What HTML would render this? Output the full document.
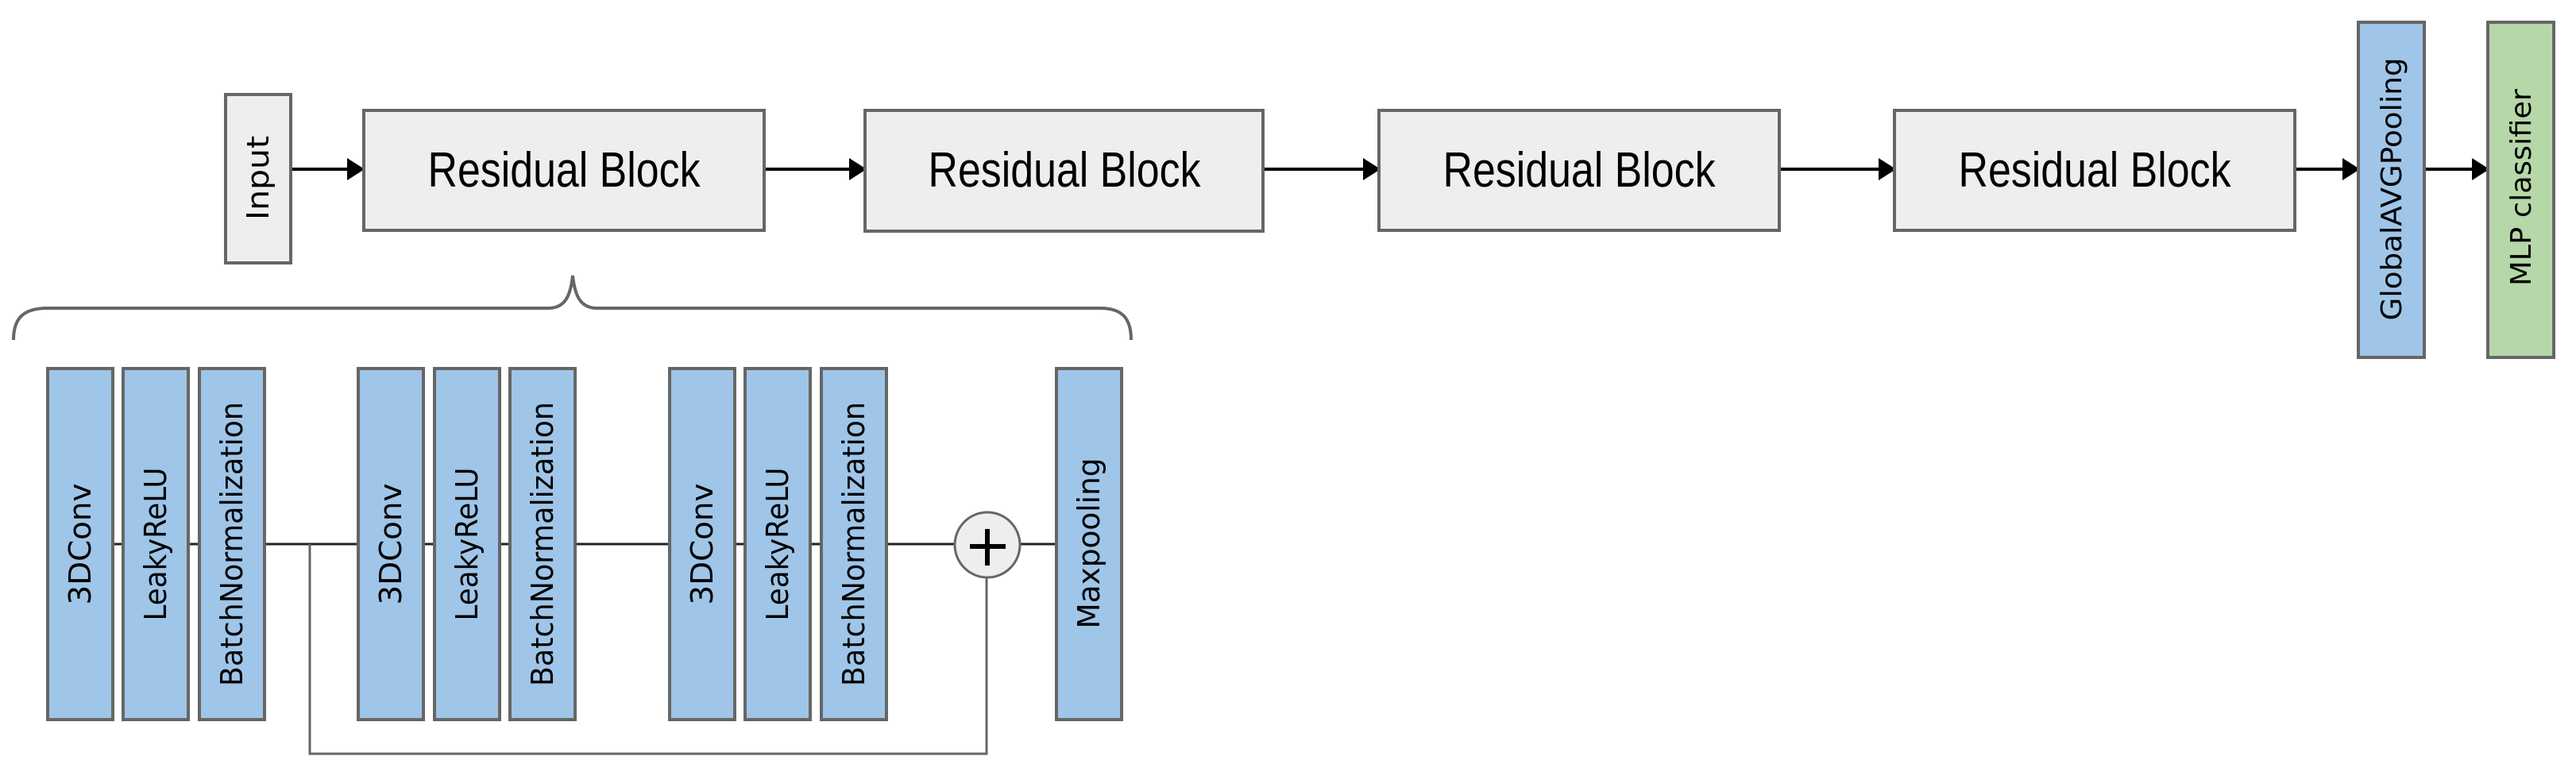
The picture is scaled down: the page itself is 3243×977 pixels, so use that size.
<!DOCTYPE html>
<html><head><meta charset="utf-8"><style>html,body{margin:0;padding:0;background:#fff}svg{display:block}</style></head>
<body>
<svg width="3243" height="977" viewBox="0 0 3243 977" xmlns="http://www.w3.org/2000/svg">
<defs><marker id="ah" markerWidth="22" markerHeight="28" refX="20" refY="14" orient="auto" markerUnits="userSpaceOnUse"><path d="M0,0 L22,14 L0,28 Z" fill="#000"/></marker></defs>
<g stroke="#000" stroke-width="4" fill="none">
<line x1="366" y1="213" x2="457" y2="213" marker-end="url(#ah)"/>
<line x1="963" y1="213" x2="1089" y2="213" marker-end="url(#ah)"/>
<line x1="1590" y1="213" x2="1736" y2="213" marker-end="url(#ah)"/>
<line x1="2240" y1="213" x2="2385" y2="213" marker-end="url(#ah)"/>
<line x1="2889" y1="213" x2="2969" y2="213" marker-end="url(#ah)"/>
<line x1="3052" y1="213" x2="3132" y2="213" marker-end="url(#ah)"/>
</g>
<g fill="#eeeeee" stroke="#666" stroke-width="4">
<rect x="284" y="119" width="82" height="212"/>
<rect x="458" y="139" width="504" height="151"/>
<rect x="1089" y="139" width="501" height="152"/>
<rect x="1736" y="139" width="504" height="151"/>
<rect x="2385" y="139" width="504" height="151"/>
</g>
<rect x="2969" y="28" width="83" height="422" fill="#9fc5e8" stroke="#666" stroke-width="4"/>
<rect x="3132" y="28" width="83" height="422" fill="#b6d7a8" stroke="#666" stroke-width="4"/>
<g font-family="Liberation Sans, sans-serif" font-size="62" fill="#000" text-anchor="middle">
<text x="710" y="235" textLength="343" lengthAdjust="spacingAndGlyphs">Residual Block</text>
<text x="1340" y="235" textLength="343" lengthAdjust="spacingAndGlyphs">Residual Block</text>
<text x="1988" y="235" textLength="343" lengthAdjust="spacingAndGlyphs">Residual Block</text>
<text x="2637" y="235" textLength="343" lengthAdjust="spacingAndGlyphs">Residual Block</text>
</g>
<path d="M17,428 C17,400 30,388 60,388 L690,388 C710,388 718,375 721,347 C724,375 732,388 752,388 L1385,388 C1412,388 1424,400 1424,428" fill="none" stroke="#666" stroke-width="4"/>
<g stroke="#222" stroke-width="3" fill="none">
<line x1="100" y1="685" x2="1202" y2="685"/>
<line x1="1284" y1="685" x2="1370" y2="685"/>
<polyline points="390,685 390,949 1242,949 1242,727" stroke="#666"/>
</g>
<g fill="#9fc5e8" stroke="#666" stroke-width="4">
<rect x="60" y="464" width="82" height="442"/>
<rect x="155" y="464" width="82" height="442"/>
<rect x="251" y="464" width="82" height="442"/>
<rect x="451" y="464" width="82" height="442"/>
<rect x="547" y="464" width="82" height="442"/>
<rect x="642" y="464" width="82" height="442"/>
<rect x="843" y="464" width="82" height="442"/>
<rect x="938" y="464" width="82" height="442"/>
<rect x="1034" y="464" width="82" height="442"/>
<rect x="1330" y="464" width="82" height="442"/>
</g>
<circle cx="1243" cy="686" r="41" fill="#eeeeee" stroke="#666" stroke-width="3"/>
<g stroke="#000" stroke-width="6"><line x1="1221" y1="688" x2="1266" y2="688"/><line x1="1243" y1="666" x2="1243" y2="712"/></g>
<g font-family="DejaVu Sans, sans-serif" font-size="38" fill="#000" text-anchor="middle">
<text transform="translate(114,685) rotate(-90)" textLength="153" lengthAdjust="spacingAndGlyphs">3DConv</text>
<text transform="translate(209,685) rotate(-90)" textLength="193" lengthAdjust="spacingAndGlyphs">LeakyReLU</text>
<text transform="translate(305,685) rotate(-90)" textLength="358" lengthAdjust="spacingAndGlyphs">BatchNormalization</text>
<text transform="translate(505,685) rotate(-90)" textLength="153" lengthAdjust="spacingAndGlyphs">3DConv</text>
<text transform="translate(601,685) rotate(-90)" textLength="193" lengthAdjust="spacingAndGlyphs">LeakyReLU</text>
<text transform="translate(696,685) rotate(-90)" textLength="358" lengthAdjust="spacingAndGlyphs">BatchNormalization</text>
<text transform="translate(897,685) rotate(-90)" textLength="153" lengthAdjust="spacingAndGlyphs">3DConv</text>
<text transform="translate(992,685) rotate(-90)" textLength="193" lengthAdjust="spacingAndGlyphs">LeakyReLU</text>
<text transform="translate(1088,685) rotate(-90)" textLength="358" lengthAdjust="spacingAndGlyphs">BatchNormalization</text>
<text transform="translate(1384,684) rotate(-90)" textLength="215" lengthAdjust="spacingAndGlyphs">Maxpooling</text>
<text transform="translate(338,224) rotate(-90)" textLength="106" lengthAdjust="spacingAndGlyphs">Input</text>
<text transform="translate(3023,238) rotate(-90)" font-size="36" textLength="331" lengthAdjust="spacingAndGlyphs">GlobalAVGPooling</text>
<text transform="translate(3186,236) rotate(-90)" font-size="36" textLength="248" lengthAdjust="spacingAndGlyphs">MLP classifier</text>
</g>
</svg>
</body></html>
